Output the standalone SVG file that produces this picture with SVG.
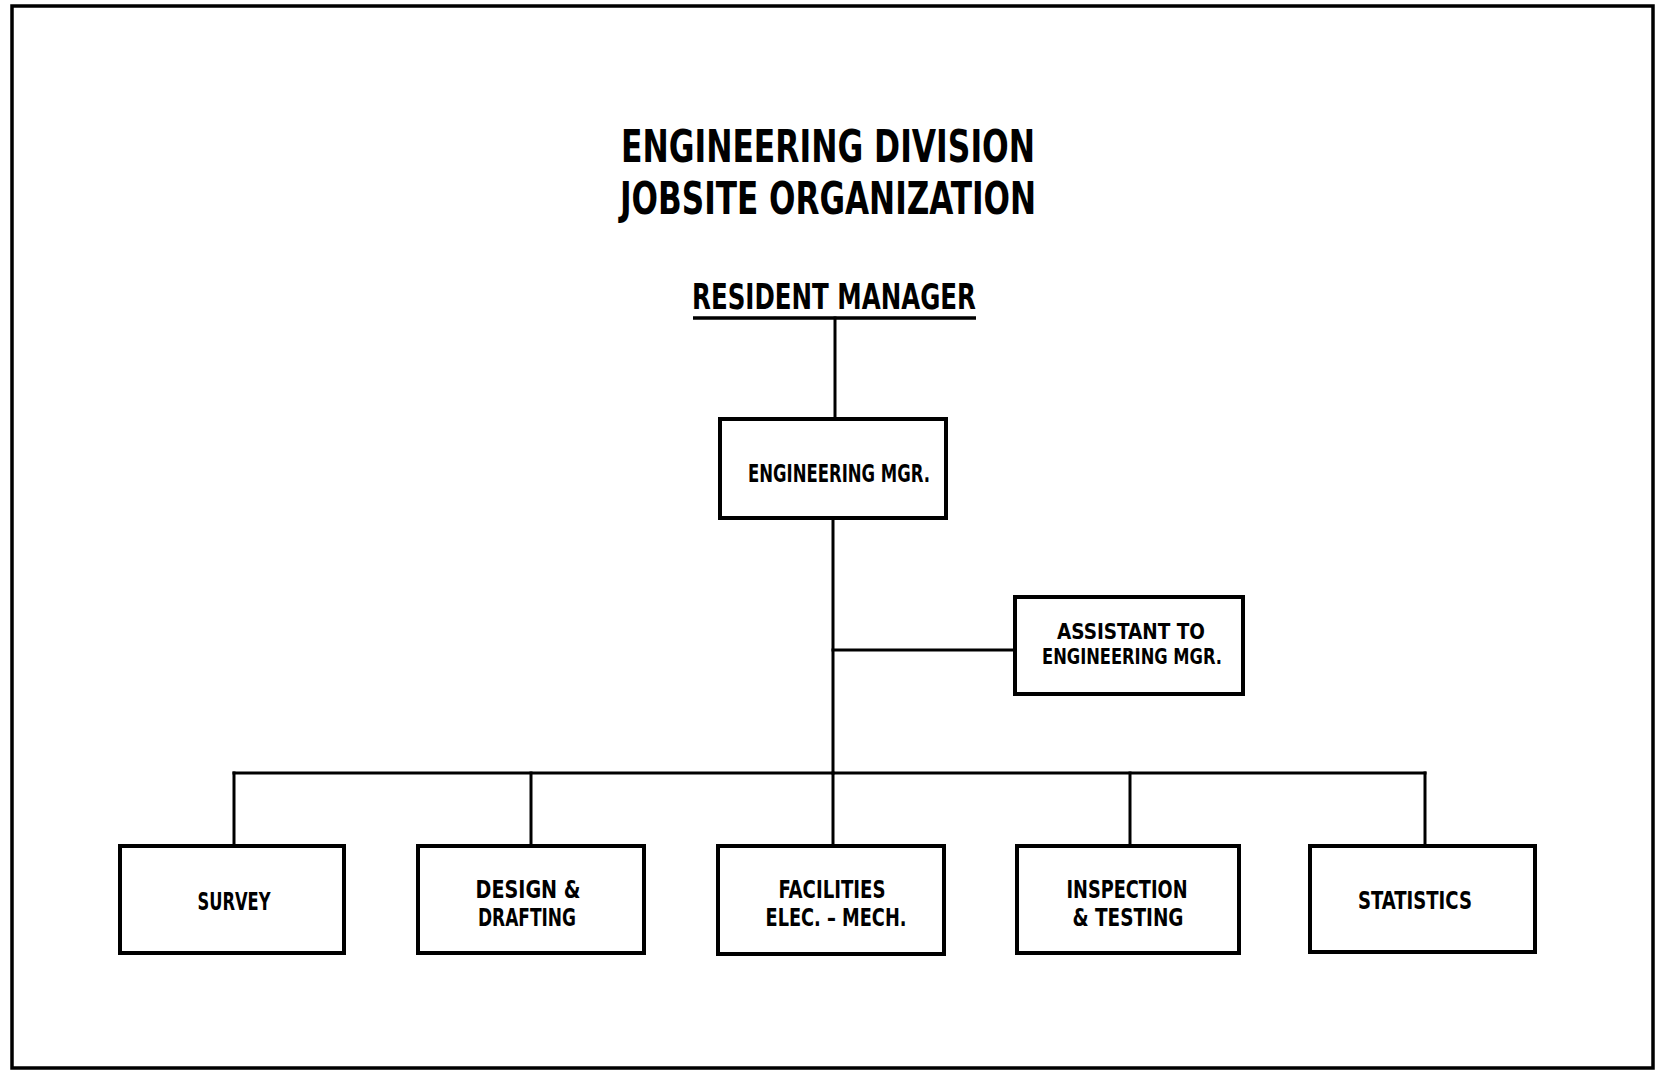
<svg xmlns="http://www.w3.org/2000/svg" width="1657" height="1072" viewBox="0 0 1657 1072">
<style>
.bg{fill:#fff}
.frame{fill:none;stroke:#000;stroke-width:3.5}
.box{fill:#fff;stroke:#000;stroke-width:4}
.conn{fill:none;stroke:#000;stroke-width:3;stroke-linecap:square}
text{font-family:"Liberation Sans Narrow","DejaVu Sans Condensed","Liberation Sans",sans-serif;font-weight:bold;fill:#000;text-anchor:middle}
.title{font-size:44px}
.rm{font-size:36px}
.lbl{font-size:24px}
.lbl2{font-size:22px}
</style>
<rect class="bg" x="0" y="0" width="1657" height="1072"/>
<rect class="frame" x="12" y="6" width="1641" height="1062"/>
<g id="title">
<text class="title" x="828" y="162" textLength="414" lengthAdjust="spacingAndGlyphs">ENGINEERING DIVISION</text>
<text class="title" x="828" y="214" textLength="416" lengthAdjust="spacingAndGlyphs">JOBSITE ORGANIZATION</text>
</g>
<g id="connectors">
<line class="conn" x1="835" y1="318" x2="835" y2="418"/>
<line class="conn" x1="833" y1="518" x2="833" y2="773"/>
<line class="conn" x1="833" y1="650" x2="1015" y2="650"/>
<line class="conn" x1="234" y1="773" x2="1425" y2="773"/>
<line class="conn" x1="234" y1="773" x2="234" y2="845"/>
<line class="conn" x1="531" y1="773" x2="531" y2="845"/>
<line class="conn" x1="833" y1="773" x2="833" y2="845"/>
<line class="conn" x1="1130" y1="773" x2="1130" y2="845"/>
<line class="conn" x1="1425" y1="773" x2="1425" y2="845"/>
</g>
<g id="resident-manager">
<text class="rm" x="834" y="309" textLength="284" lengthAdjust="spacingAndGlyphs">RESIDENT MANAGER</text>
<line x1="693" y1="318" x2="976" y2="318" stroke="#000" stroke-width="3.5"/>
</g>
<g id="engineering-mgr">
<rect class="box" x="720" y="419" width="226" height="99"/>
<text class="lbl" x="839" y="482" textLength="182" lengthAdjust="spacingAndGlyphs">ENGINEERING MGR.</text>
</g>
<g id="assistant">
<rect class="box" x="1015" y="597" width="228" height="97"/>
<text class="lbl2" x="1131" y="639" textLength="148" lengthAdjust="spacingAndGlyphs">ASSISTANT TO</text>
<text class="lbl2" x="1132" y="664" textLength="180" lengthAdjust="spacingAndGlyphs">ENGINEERING MGR.</text>
</g>
<g id="survey">
<rect class="box" x="120" y="846" width="224" height="107"/>
<text class="lbl" x="234" y="910" textLength="73" lengthAdjust="spacingAndGlyphs">SURVEY</text>
</g>
<g id="design-drafting">
<rect class="box" x="418" y="846" width="226" height="107"/>
<text class="lbl" x="528" y="898" textLength="105" lengthAdjust="spacingAndGlyphs">DESIGN &amp;</text>
<text class="lbl" x="527" y="926" textLength="98" lengthAdjust="spacingAndGlyphs">DRAFTING</text>
</g>
<g id="facilities">
<rect class="box" x="718" y="846" width="226" height="108"/>
<text class="lbl" x="832" y="898" textLength="107" lengthAdjust="spacingAndGlyphs">FACILITIES</text>
<text class="lbl" x="836" y="926" textLength="141" lengthAdjust="spacingAndGlyphs">ELEC. – MECH.</text>
</g>
<g id="inspection-testing">
<rect class="box" x="1017" y="846" width="222" height="107"/>
<text class="lbl" x="1127" y="898" textLength="121" lengthAdjust="spacingAndGlyphs">INSPECTION</text>
<text class="lbl" x="1128" y="926" textLength="111" lengthAdjust="spacingAndGlyphs">&amp; TESTING</text>
</g>
<g id="statistics">
<rect class="box" x="1310" y="846" width="225" height="106"/>
<text class="lbl" x="1415" y="909" textLength="114" lengthAdjust="spacingAndGlyphs">STATISTICS</text>
</g>
</svg>
